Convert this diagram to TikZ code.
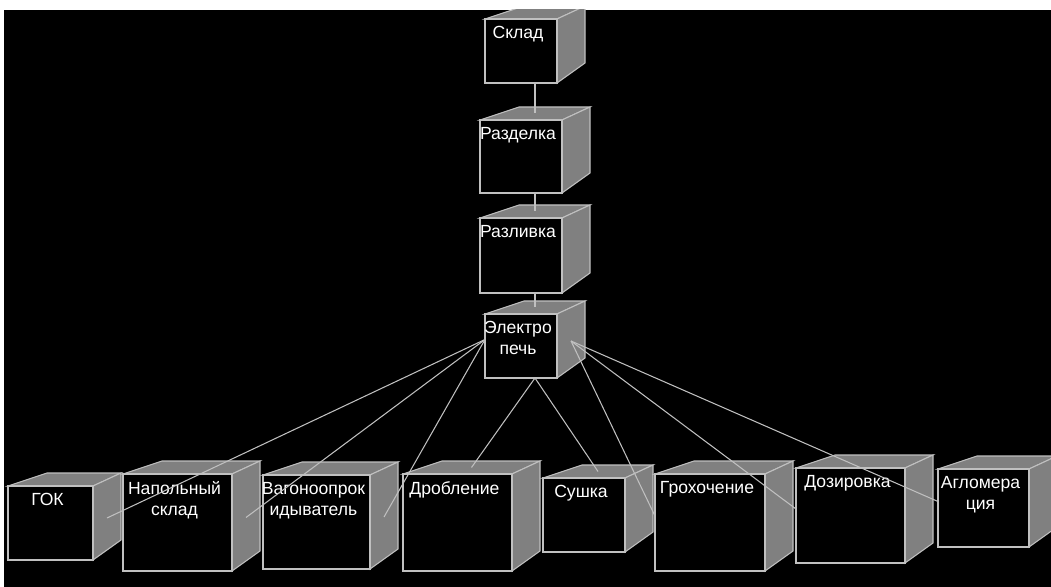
\documentclass[tikz,border=0pt]{standalone}
\usepackage{fontspec}
\setmainfont{Liberation Sans}
\usetikzlibrary{calc}
\definecolor{facegray}{HTML}{808080}
\definecolor{edgegray}{HTML}{C0C0C0}
% 3D box: name, front top-left corner, front bottom-right corner, label
\def\nodebox(#1)(#2,#3)(#4,#5)#6{%
	\filldraw[face] (#2,#3) -- ({#2+39},{#3-13}) -- ({#4+28},{#3-13}) -- (#4,#3) -- cycle;
	\filldraw[face] (#4,#3) -- ({#4+28},{#3-13}) -- ({#4+28},{#5-20}) -- (#4,#5) -- cycle;
	\filldraw[front] (#2,#3) rectangle (#4,#5);
	\node[boxtext] (#1) at ({(#2+#4)/2-3},{#3+7}) {#6};
	\coordinate (#1-top) at ({(#2+#4+28)/2},{#3-6.5});
	\coordinate (#1-bot) at ({(#2+#4+28)/2},#5);
	\coordinate (#1-side) at ({#4+14},{(#3+#5)/2-5});
	\coordinate (#1-left) at (#2,{(#3+#5-13)/2});
}

\begin{document}
\begin{tikzpicture}[x=0.02cm, y=-0.02cm,
		face/.style={fill=facegray, draw=edgegray, line width=0.6pt},
		front/.style={fill=black, draw=edgegray, line width=1.1pt},
		boxtext/.style={text=white, font=\fontsize{10}{12}\selectfont, align=center, anchor=north, inner sep=0pt},
		conn/.style={draw=edgegray, line width=0.6pt}]
		%%%%% START %%%%%
		
		\useasboundingbox (0, 0) rectangle (1051, 587);
		\fill[white] (0, 0) rectangle (1051, 587);
		\fill[black] (4, 10) rectangle (1051, 587);
		
		\begin{scope}
		\clip (4, 10) rectangle (1051, 587);
		
		\nodebox(sklad)(485,19)(557,83){Склад}
		\nodebox(razdelka)(480,120)(562,193){Разделка}
		\nodebox(razlivka)(480,218)(562,293){Разливка}
		\nodebox(pech)(485,314)(557,378){Электро\\печь}
		
		\nodebox(gok)(8,486)(93,560){ГОК}
		\nodebox(napol)(123,474)(232,571){Напольный\\склад}
		\nodebox(vagon)(263,475)(370,569){Вагоноопрок\\идыватель}
		\nodebox(drob)(403,474)(512,571){Дробление}
		\nodebox(sushka)(543,478)(625,552){Сушка}
		\nodebox(grokh)(655,474)(765,571){Грохочение}
		\nodebox(doz)(796,468)(905,563){Дозировка}
		\nodebox(aglo)(938,469)(1029,547){Агломера\\ция}
		
		\draw[conn] (sklad-bot) -- (razdelka-top);
		\draw[conn] (razdelka-bot) -- (razlivka-top);
		\draw[conn] (razlivka-bot) -- (pech-top);
		
		\draw[conn] (pech-left) -- (gok-side);
		\draw[conn] (pech-left) -- (napol-side);
		\draw[conn] (pech-left) -- (vagon-side);
		\draw[conn] (pech-bot) -- (drob-top);
		\draw[conn] (pech-bot) -- (sushka-top);
		\draw[conn] (pech-side) -- (grokh-left);
		\draw[conn] (pech-side) -- (doz-left);
		\draw[conn] (pech-side) -- (aglo-left);
		\end{scope}
		
		%%%%% END %%%%%
\end{tikzpicture}
\end{document}
